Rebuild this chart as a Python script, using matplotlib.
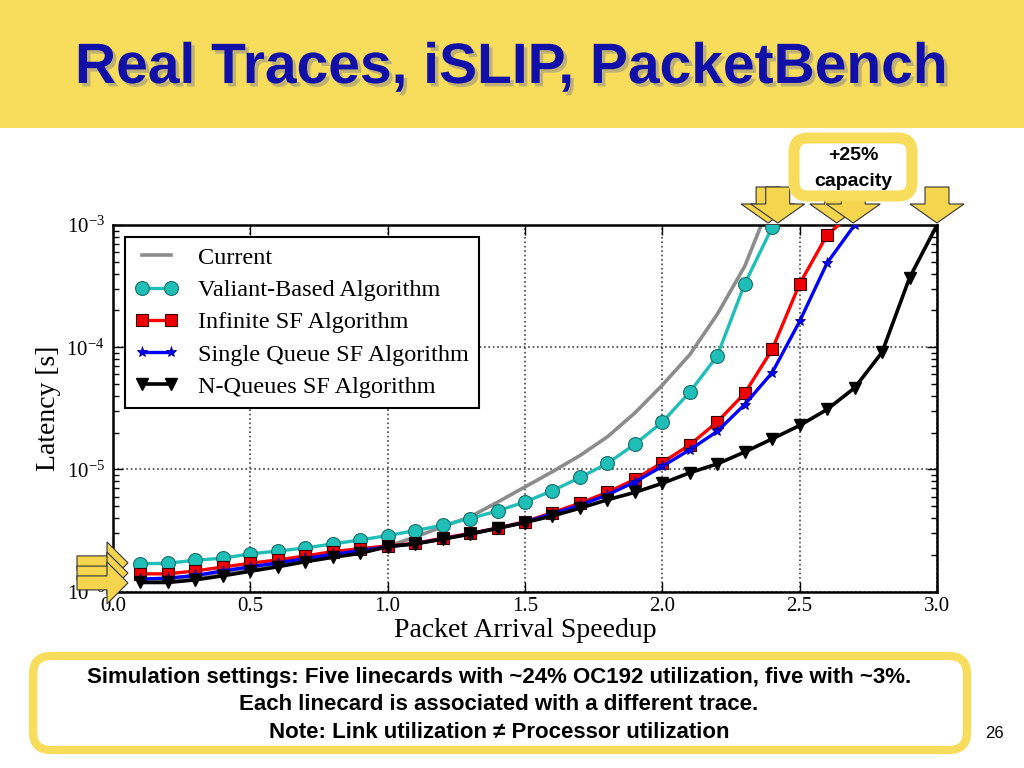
import numpy as np
import matplotlib
matplotlib.use('Agg')
import matplotlib.pyplot as plt
from matplotlib.patches import Polygon, FancyBboxPatch, Rectangle
import matplotlib.patheffects as pe

# datos
speedup = [0.1, 0.2, 0.3, 0.4, 0.5, 0.6, 0.7, 0.8, 0.9, 1.0,
           1.1, 1.2, 1.3, 1.4, 1.5, 1.6, 1.7, 1.8, 1.9, 2.0,
           2.1, 2.2, 2.3, 2.4, 2.5, 2.6, 2.7, 2.8, 2.9, 3.0]

current = [1.2e-6, 1.22e-6, 1.3e-6, 1.42e-6, 1.55e-6, 1.7e-6, 1.85e-6, 2.0e-6, 2.15e-6, 2.35e-6,
           2.8e-6, 3.4e-6, 4.1e-6, 5.4e-6, 7.2e-6, 9.6e-6, 1.3e-5, 1.85e-5, 2.9e-5, 4.9e-5,
           8.7e-5, 1.86e-4, 4.6e-4, 1.67e-3]

valiant = [1.69e-6, 1.71e-6, 1.81e-6, 1.88e-6, 2.04e-6, 2.15e-6, 2.28e-6, 2.46e-6, 2.65e-6, 2.88e-6,
           3.16e-6, 3.5e-6, 3.97e-6, 4.58e-6, 5.43e-6, 6.7e-6, 8.6e-6, 1.12e-5, 1.61e-5, 2.44e-5,
           4.3e-5, 8.5e-5, 3.3e-4, 9.6e-4]

infinite_sf = [1.4e-6, 1.4e-6, 1.48e-6, 1.59e-6, 1.71e-6, 1.82e-6, 1.96e-6, 2.13e-6, 2.25e-6, 2.37e-6,
               2.49e-6, 2.74e-6, 3.0e-6, 3.32e-6, 3.74e-6, 4.44e-6, 5.3e-6, 6.5e-6, 8.3e-6, 1.14e-5,
               1.59e-5, 2.45e-5, 4.2e-5, 9.6e-5, 3.3e-4, 8.3e-4, 1.3e-3]

single_queue_sf = [1.27e-6, 1.29e-6, 1.36e-6, 1.48e-6, 1.6e-6, 1.72e-6, 1.87e-6, 2.02e-6, 2.17e-6, 2.33e-6,
                   2.47e-6, 2.7e-6, 2.97e-6, 3.3e-6, 3.7e-6, 4.35e-6, 5.1e-6, 6.2e-6, 7.9e-6, 1.06e-5,
                   1.45e-5, 2.05e-5, 3.4e-5, 6.2e-5, 1.63e-4, 4.9e-4, 1.0e-3]

n_queues_sf = [1.19e-6, 1.19e-6, 1.25e-6, 1.35e-6, 1.47e-6, 1.6e-6, 1.76e-6, 1.91e-6, 2.06e-6, 2.34e-6,
               2.46e-6, 2.69e-6, 2.96e-6, 3.3e-6, 3.68e-6, 4.17e-6, 4.82e-6, 5.65e-6, 6.5e-6, 7.7e-6,
               9.4e-6, 1.11e-5, 1.39e-5, 1.78e-5, 2.29e-5, 3.1e-5, 4.65e-5, 9.1e-5, 3.7e-4, 1.0e-3]

nombres = ['Current', 'Valiant-Based Algorithm', 'Infinite SF Algorithm',
           'Single Queue SF Algorithm', 'N-Queues SF Algorithm']

# flechas amarillas (x donde se satura, y del punto inicial)
flechas_x = [2.385, 2.42, 2.635, 2.695, 3.0]
flechas_y = [1.72e-6, 1.42e-6, 1.18e-6]

titulo = 'Real Traces, iSLIP, PacketBench'
notas = ['Simulation settings: Five linecards with ~24% OC192 utilization, five with ~3%.',
         'Each linecard is associated with a different trace.',
         'Note: Link utilization \u2260 Processor utilization']

amarillo = '#F8DC5C'
amarillo_flecha = '#F5D44E'
sans = 'Liberation Sans'

plt.rcParams['font.family'] = 'Liberation Serif'
plt.rcParams['mathtext.fontset'] = 'custom'
plt.rcParams['mathtext.rm'] = 'Liberation Serif'
plt.rcParams['mathtext.it'] = 'Liberation Serif:italic'

fig = plt.figure(figsize=(10.24, 7.68), dpi=100)
fig.patch.set_facecolor('white')

ax = fig.add_axes([113/1024, 1 - 591.7/768, (937-113)/1024, (591.7-225)/768])

x = np.array(speedup)
ax.plot(x[:len(current)], current, '-', color='#8c8c8c', lw=2.6, label=nombres[0], zorder=2)
ax.plot(x[:len(valiant)], valiant, '-o', color='#1fbfb8', lw=2.4, ms=10, mec='#1a6e6a', mew=0.8,
        label=nombres[1], zorder=3)
ax.plot(x[:len(infinite_sf)], infinite_sf, '-s', color='#ff0000', lw=2.4, ms=9, mfc='#ee0000',
        mec='#3a0000', mew=0.8, label=nombres[2], zorder=4)
ax.plot(x[:len(single_queue_sf)], single_queue_sf, '-*', color='#0000ff', lw=2.4, ms=8,
        mec='#000088', mew=0.6, label=nombres[3], zorder=5)
ax.plot(x[:len(n_queues_sf)], n_queues_sf, '-v', color='black', lw=2.6, ms=8, label=nombres[4], zorder=6)

ax.set_yscale('log')
ax.set_xlim(0, 3.0)
ax.set_ylim(1e-6, 1e-3)
ax.set_xticks([0.0, 0.5, 1.0, 1.5, 2.0, 2.5, 3.0])
ax.set_xticklabels(['0.0', '0.5', '1.0', '1.5', '2.0', '2.5', '3.0'])
ax.tick_params(which='both', direction='in', top=True, right=True, labelsize=15)
ax.tick_params(which='major', length=7, width=1)
ax.tick_params(which='minor', length=4, width=1)
ax.tick_params(axis='y', pad=6)
ax.grid(True, which='major', linestyle=':', color='#444444', lw=1.2)
for s in ax.spines.values():
    s.set_linewidth(1.8)
ax.set_xlabel('Packet Arrival Speedup', fontsize=20, labelpad=2)
ax.set_ylabel('Latency [s]', fontsize=20, labelpad=4)

leg = ax.legend(loc='upper left', numpoints=2, fancybox=False, edgecolor='black',
                prop={'size': 17.5}, handlelength=1.8, labelspacing=0.42,
                borderaxespad=0.5, framealpha=1)
leg.get_frame().set_linewidth(1.5)

# capa de decoracion en pixeles
deco = fig.add_axes([0, 0, 1, 1], zorder=10)
deco.set_xlim(0, 1024)
deco.set_ylim(768, 0)
deco.axis('off')
deco.patch.set_alpha(0)

deco.add_patch(Rectangle((0, 0), 1024, 128, facecolor=amarillo, edgecolor='none'))
deco.text(75, 68, titulo, fontsize=41, fontweight='bold', color='#1010a8',
          family=sans, va='center', ha='left',
          path_effects=[pe.withSimplePatchShadow(offset=(2.5, -2.5), shadow_rgbFace='#888888', alpha=0.5)])

# flechas hacia abajo
for fx_ in flechas_x:
    px, _ = ax.transData.transform((fx_, 1e-3))
    tip = 223
    pts = [(px - 12, 187), (px + 12, 187), (px + 12, 204), (px + 27, 204), (px, tip),
           (px - 27, 204), (px - 12, 204)]
    deco.add_patch(Polygon(pts, closed=True, facecolor=amarillo_flecha, edgecolor='#333333', lw=0.8))

# caja +25%
deco.add_patch(FancyBboxPatch((794, 138), 118, 58, boxstyle='round,pad=0,rounding_size=14',
                              facecolor='white', edgecolor=amarillo, lw=8))
deco.text(853, 156, '+25%', fontsize=14, fontweight='bold', ha='center', va='center', family=sans)
deco.text(853, 181, 'capacity', fontsize=14, fontweight='bold', ha='center', va='center', family=sans)

# caja inferior
deco.add_patch(FancyBboxPatch((33, 656), 934, 94, boxstyle='round,pad=0,rounding_size=18',
                              facecolor='white', edgecolor=amarillo, lw=6))
for i, linea in enumerate(notas):
    deco.text(499, 678 + 27 * i, linea, fontsize=16, fontweight='bold', ha='center', va='center',
              family=sans)
deco.text(994, 733, '26', fontsize=12, ha='center', va='center', family=sans)

# flechas hacia la derecha
for fy_ in flechas_y:
    _, py = ax.transData.transform((0, fy_))
    py = 768 - py
    pts = [(77, py - 7), (107, py - 7), (107, py - 21), (128, py), (107, py + 21),
           (107, py + 7), (77, py + 7)]
    deco.add_patch(Polygon(pts, closed=True, facecolor=amarillo_flecha, edgecolor='#333333', lw=0.8))

fig.savefig('out.png', dpi=100)
